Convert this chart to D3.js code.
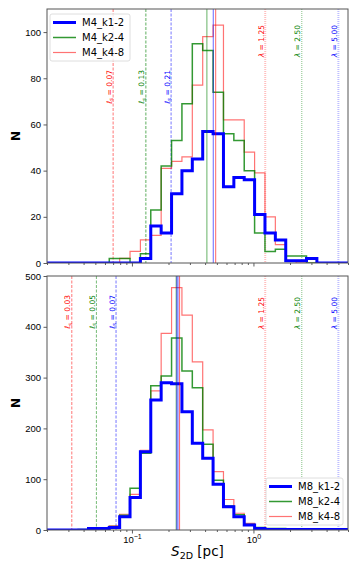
<!DOCTYPE html>
<html>
<head>
<meta charset="utf-8">
<script src="https://cdnjs.cloudflare.com/ajax/libs/d3/7.8.5/d3.min.js"></script>
<style>
  body { margin: 0; background: #fff; }
  svg { font-family: "DejaVu Sans", sans-serif; }
  .domain { display: none; }
  .tick line { stroke: #333; stroke-width: 0.8; }
  .tick text { font-size: 9.5px; fill: #000; }
</style>
</head>
<body>
<svg width="357" height="571"></svg>
<script>
// log spaced bin edges (pc)
var binEdges = [0.02, 0.02434, 0.02963, 0.03607, 0.04391, 0.05346, 0.06508, 0.07923, 0.09647, 0.1174,
  0.1429, 0.1740, 0.2119, 0.2579, 0.3140, 0.3823, 0.4654, 0.5666, 0.6898, 0.8397,
  1.0220, 1.2441, 1.5146, 1.8440, 2.2449, 2.7330, 3.3272, 4.0506, 4.9312, 6.0];

// counts per bin, top panel
var m4Names = ["M4_k1-2", "M4_k2-4", "M4_k4-8"];
var m4k12 = [0,0,0,0,0,0,0,0,0,2,16,13,30,40,45,57,56,33,37,36,21,13,10,1,1,2,0,0,0];
var m4k24 = [0,0,0,0,0,0,2,2,0,4,23,42,53,69,95,92,74,56,53,40,13,5,6,3,3,0,0,0,0];
var m4k48 = [0,0,0,0,0,0,0,2,5,10,12,41,44,46,77,98,103,62,62,48,39,20,8,1,0,0,0,0,0];
var m4Medians = [0.467, 0.414, 0.489];
var m4Ls = [0.07, 0.13, 0.21];
var m4LsText = ["0.07", "0.13", "0.21"];

// counts per bin, bottom panel
var m8Names = ["M8_k1-2", "M8_k2-4", "M8_k4-8"];
var m8k12 = [0,0,0,0,3,3,5,26,64,154,256,290,288,233,171,141,90,46,26,10,3,1,1,1,1,1,1,1,1];
var m8k24 = [0,0,0,1,3,3,7,29,82,151,284,303,378,313,280,169,98,47,30,11,5,3,3,2,0,0,0,0,0];
var m8k48 = [0,0,0,1,3,3,8,31,70,157,274,387,477,423,331,197,115,60,33,13,4,1,0,0,0,0,0,0,0];
var m8Medians = [0.2366, 0.2313, 0.2467];
var m8Ls = [0.032, 0.051, 0.074];
var m8LsText = ["0.03", "0.05", "0.07"];

var lambdas = [1.25, 2.5, 5.0];
var lambdaText = ["1.25", "2.50", "5.00"];

var m4Ticks = [0, 20, 40, 60, 80, 100];
var m8Ticks = [0, 100, 200, 300, 400, 500];
var xMajor = [0.1, 1];
var xMinor = [0.02,0.03,0.04,0.05,0.06,0.07,0.08,0.09,0.2,0.3,0.4,0.5,0.6,0.7,0.8,0.9,2,3,4,5,6];

var colors = ["#0000ff", "#008000", "#ff0000"];
var histStyle = [
  {width: 3, opacity: 1},
  {width: 1.5, opacity: 0.8},
  {width: 1.2, opacity: 0.55}
];

var svg = d3.select("svg");
var xScale = d3.scaleLog().domain([0.02, 6]).range([47, 348]);

function stepPoints(counts) {
  var pts = [[binEdges[0], 0]];
  for (var i = 0; i < counts.length; i++) {
    pts.push([binEdges[i], counts[i]]);
    pts.push([binEdges[i + 1], counts[i]]);
  }
  pts.push([binEdges[binEdges.length - 1], 0]);
  return pts;
}

function drawPanel(p) {
  var yScale = d3.scaleLinear().domain([0, p.ymax]).range([p.bottom, p.top]);
  var g = svg.append("g");

  g.append("clipPath").attr("id", "clip" + p.id)
    .append("rect").attr("x", 47).attr("y", p.top).attr("width", 301).attr("height", p.bottom - p.top);
  var inner = g.append("g").attr("clip-path", "url(#clip" + p.id + ")");

  // scale lines l_s (dashed)
  p.ls.forEach(function(v, i) {
    inner.append("line")
      .attr("x1", xScale(v)).attr("x2", xScale(v))
      .attr("y1", p.top).attr("y2", p.bottom)
      .attr("stroke", colors[2 - i])
      .attr("stroke-width", (p.id == 0 && i == 1) ? 1.6 : 0.9)
      .attr("stroke-opacity", (p.id == 0 && i == 1) ? 0.4 : 0.6)
      .attr("stroke-dasharray", "3,1.5");
    var t = g.append("text")
      .attr("transform", "translate(" + (xScale(v) - 1.5) + "," + p.lsY + ") rotate(-90)")
      .attr("text-anchor", "end")
      .attr("font-size", "7.5px")
      .attr("fill", colors[2 - i]);
    t.append("tspan").attr("font-style", "italic").text("ℓ");
    t.append("tspan").attr("font-size", "5.5px").attr("dy", 1.5).text("s");
    t.append("tspan").attr("dy", -1.5).text(" = " + p.lsText[i]);
  });

  // lambda lines (dotted)
  lambdas.forEach(function(v, i) {
    inner.append("line")
      .attr("x1", xScale(v)).attr("x2", xScale(v))
      .attr("y1", p.top).attr("y2", p.bottom)
      .attr("stroke", colors[2 - i])
      .attr("stroke-width", i == 1 ? 0.8 : 2)
      .attr("stroke-opacity", i == 1 ? 0.6 : 0.25)
      .attr("stroke-dasharray", "1,1");
    var t = g.append("text")
      .attr("transform", "translate(" + (xScale(v) - 1.5) + "," + p.lamY + ") rotate(-90)")
      .attr("text-anchor", "end")
      .attr("font-size", "7.5px")
      .attr("fill", colors[2 - i]);
    t.append("tspan").attr("font-style", "italic").text("λ");
    t.append("tspan").text(" = " + lambdaText[i]);
  });

  // histograms
  var line = d3.line()
    .x(function(d) { return xScale(d[0]); })
    .y(function(d) { return yScale(d[1]); });
  [2, 1, 0].forEach(function(i) {
    inner.append("path")
      .attr("d", line(stepPoints(p.series[i])))
      .attr("fill", "none")
      .attr("stroke", colors[i])
      .attr("stroke-width", histStyle[i].width)
      .attr("stroke-opacity", histStyle[i].opacity)
      .attr("stroke-linejoin", "miter");
  });

  // medians
  [1, 0, 2].forEach(function(i) {
    var x = xScale(p.medians[i]);
    inner.append("line")
      .attr("x1", x).attr("x2", x).attr("y1", p.top).attr("y2", p.bottom)
      .attr("stroke", colors[i])
      .attr("stroke-width", (p.id == 1 && i == 0) ? 2.5 : 1)
      .attr("stroke-opacity", (p.id == 1 && i == 0) ? 0.45 : 0.6);
  });

  // axes
  g.append("g").attr("transform", "translate(47,0)")
    .call(d3.axisLeft(yScale).tickValues(p.ticks).tickSize(3.5).tickPadding(2.5));

  g.append("g").attr("transform", "translate(0," + p.bottom + ")")
    .call(d3.axisBottom(xScale).tickValues(xMinor).tickSize(2).tickFormat(""));
  var xa = g.append("g").attr("transform", "translate(0," + p.bottom + ")")
    .call(d3.axisBottom(xScale).tickValues(xMajor).tickSize(3.5).tickPadding(3));
  xa.selectAll(".tick text").each(function(d) {
    var el = d3.select(this);
    el.text("");
    if (!p.xLabels) return;
    el.attr("font-size", "10px");
    el.append("tspan").text("10");
    el.append("tspan").attr("dy", -4.5).attr("font-size", "7px")
      .text(d < 1 ? "\u22121" : "0");
  });

  // frame
  g.append("rect").attr("x", 47).attr("y", p.top)
    .attr("width", 301).attr("height", p.bottom - p.top)
    .attr("fill", "none").attr("stroke", "#555").attr("stroke-width", 1);

  g.append("text")
    .attr("transform", "translate(20," + ((p.top + p.bottom) / 2) + ") rotate(-90)")
    .attr("text-anchor", "middle")
    .attr("font-size", "12px").attr("font-weight", "bold")
    .text("N");

  // legend
  var lg = g.append("g").attr("transform", "translate(" + p.legX + "," + p.legY + ")");
  lg.append("rect").attr("width", p.legW).attr("height", 47).attr("rx", 2)
    .attr("fill", "#fff").attr("fill-opacity", 0.8)
    .attr("stroke", "#d5d5d5").attr("stroke-width", 0.8);
  p.names.forEach(function(name, i) {
    var y = 8.5 + i * 15;
    lg.append("line").attr("x1", 3).attr("x2", 26).attr("y1", y).attr("y2", y)
      .attr("stroke", colors[i])
      .attr("stroke-width", histStyle[i].width)
      .attr("stroke-opacity", histStyle[i].opacity);
    lg.append("text").attr("x", 32).attr("y", y + 3.5)
      .attr("font-size", "10px").text(name);
  });
}

drawPanel({id: 0, top: 9, bottom: 263, ymax: 110, ticks: m4Ticks,
  series: [m4k12, m4k24, m4k48], names: m4Names, medians: m4Medians,
  ls: m4Ls, lsText: m4LsText, lsY: 70, lamY: 25, xLabels: false,
  legX: 50, legY: 14, legW: 80});

drawPanel({id: 1, top: 276, bottom: 530, ymax: 500, ticks: m8Ticks,
  series: [m8k12, m8k24, m8k48], names: m8Names, medians: m8Medians,
  ls: m8Ls, lsText: m8LsText, lsY: 295, lamY: 297, xLabels: true,
  legX: 266, legY: 478, legW: 77});

// x label
var xl = svg.append("text").attr("x", 197.5).attr("y", 556)
  .attr("text-anchor", "middle").attr("font-size", "13.5px");
xl.append("tspan").attr("font-style", "italic").text("S");
xl.append("tspan").attr("font-size", "9.5px").attr("dy", 3).text("2D");
xl.append("tspan").attr("dy", -3).text(" [pc]");
</script>
</body>
</html>
